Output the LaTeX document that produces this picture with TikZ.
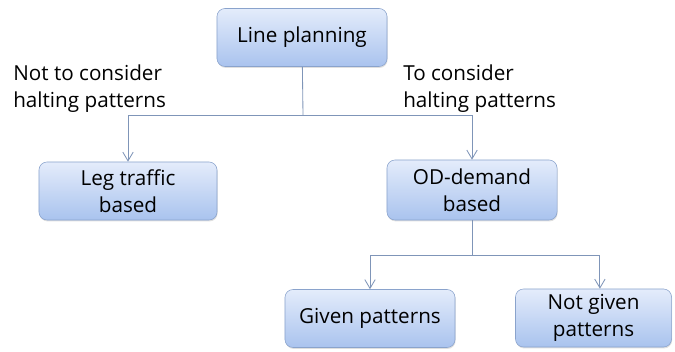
\documentclass[tikz,border=0pt]{standalone}
\usepackage{fontspec}
\setmainfont{Open Sans}
\usetikzlibrary{arrows.meta}
\usetikzlibrary{shadows}
\definecolor{boxtop}{HTML}{E4ECFB}
\definecolor{boxbot}{HTML}{A9C3EE}
\definecolor{boxline}{HTML}{8AA3CC}
\definecolor{linkline}{HTML}{7F95B8}
\tikzset{
	planbox/.style={rounded corners=0.2cm, draw=boxline, top color=boxtop, bottom color=boxbot,
		minimum height=1.45cm, minimum width=4.25cm, align=center, font=\fontsize{14.7}{19}\selectfont,
		drop shadow={shadow xshift=0.4pt, shadow yshift=-1pt, opacity=0.25}},
	link/.style={draw=linkline, line width=0.6pt},
	linkarrow/.style={link, -{Straight Barb[length=2.2mm, width=2.6mm]}},
	sidetext/.style={align=left, inner sep=0pt, font=\fontsize{14.7}{18.6}\selectfont}
}
\begin{document}
\begin{tikzpicture}[x=0.025cm, y=-0.025cm]
		\useasboundingbox (0,0) rectangle (675,352);
		
		\node[planbox] (plan) at (302, 37.5) {Line planning};
		\node[planbox, minimum width=4.45cm] (leg) at (128, 191) {Leg traffic\\based};
		\node[planbox, minimum height=1.5cm] (od) at (472, 190) {OD-demand\\based};
		\node[planbox] (given) at (370, 318.5) {Given patterns};
		\node[planbox, minimum width=3.9cm] (ngiven) at (593.5, 318) {Not given\\patterns};
		
		\node[sidetext, anchor=north west] (nottext) at (13, 65) {Not to consider\\halting patterns};
		\node[sidetext, anchor=north west] (totext) at (403, 65) {To consider\\halting patterns};
		
		\coordinate (split1) at (303, 115);
		\coordinate (split2) at (472, 255);
		
		\draw[link] (plan) -- (split1);
		\draw[linkarrow] (split1) -| (leg.north);
		\draw[linkarrow] (split1) -| (od.north);
		\draw[link] (od) -- (split2);
		\draw[linkarrow] (split2) -| (given.north);
		\draw[linkarrow] (split2) -| ([xshift=0.16cm]ngiven.north);
	\end{tikzpicture}
\end{document}
